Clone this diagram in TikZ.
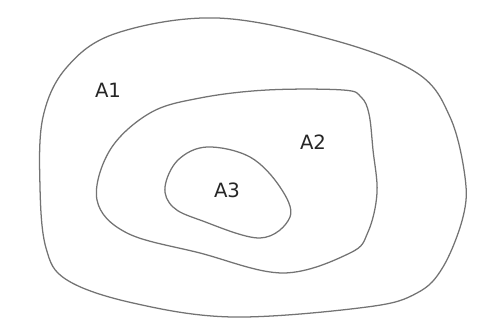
\documentclass[tikz,border=0pt]{standalone}
\usepackage{fontspec}
\setsansfont{DejaVu Sans}
\begin{document}
\begin{tikzpicture}[x=0.025cm, y=-0.025cm,
    region/.style={draw=black!55, line width=0.9pt},
    lbl/.style={font=\sffamily\fontsize{14}{16}\selectfont, text=black!85, inner sep=1pt}]
      \useasboundingbox (0,0) rectangle (486,322);
      \draw[region] plot[smooth cycle, tension=0.6] coordinates {(217,18) (333,40) (417,73) (450,117) (465,177) (463,217) (443,267) (417,293) (367,307) (233,317) (133,303) (67,280) (46,248) (40,187) (43,117) (67,67) (117,33)};
      \draw[region] plot[smooth cycle, tension=0.6] coordinates {(343,90) (361,97) (369,114) (373,150) (377,193) (368,232) (350,253) (283,273) (200,253) (127,233) (97,200) (110,150) (150,113) (200,98) (267,90)};
      \draw[region] plot[smooth cycle, tension=0.6] coordinates {(207,147) (250,157) (280,187) (290,217) (260,238) (200,220) (173,207) (165,187) (178,160)};
      \node[lbl] (A1) at (108,90) {A1};
      \node[lbl] (A2) at (313,142) {A2};
      \node[lbl] (A3) at (227,190) {A3};
\end{tikzpicture}
\end{document}
